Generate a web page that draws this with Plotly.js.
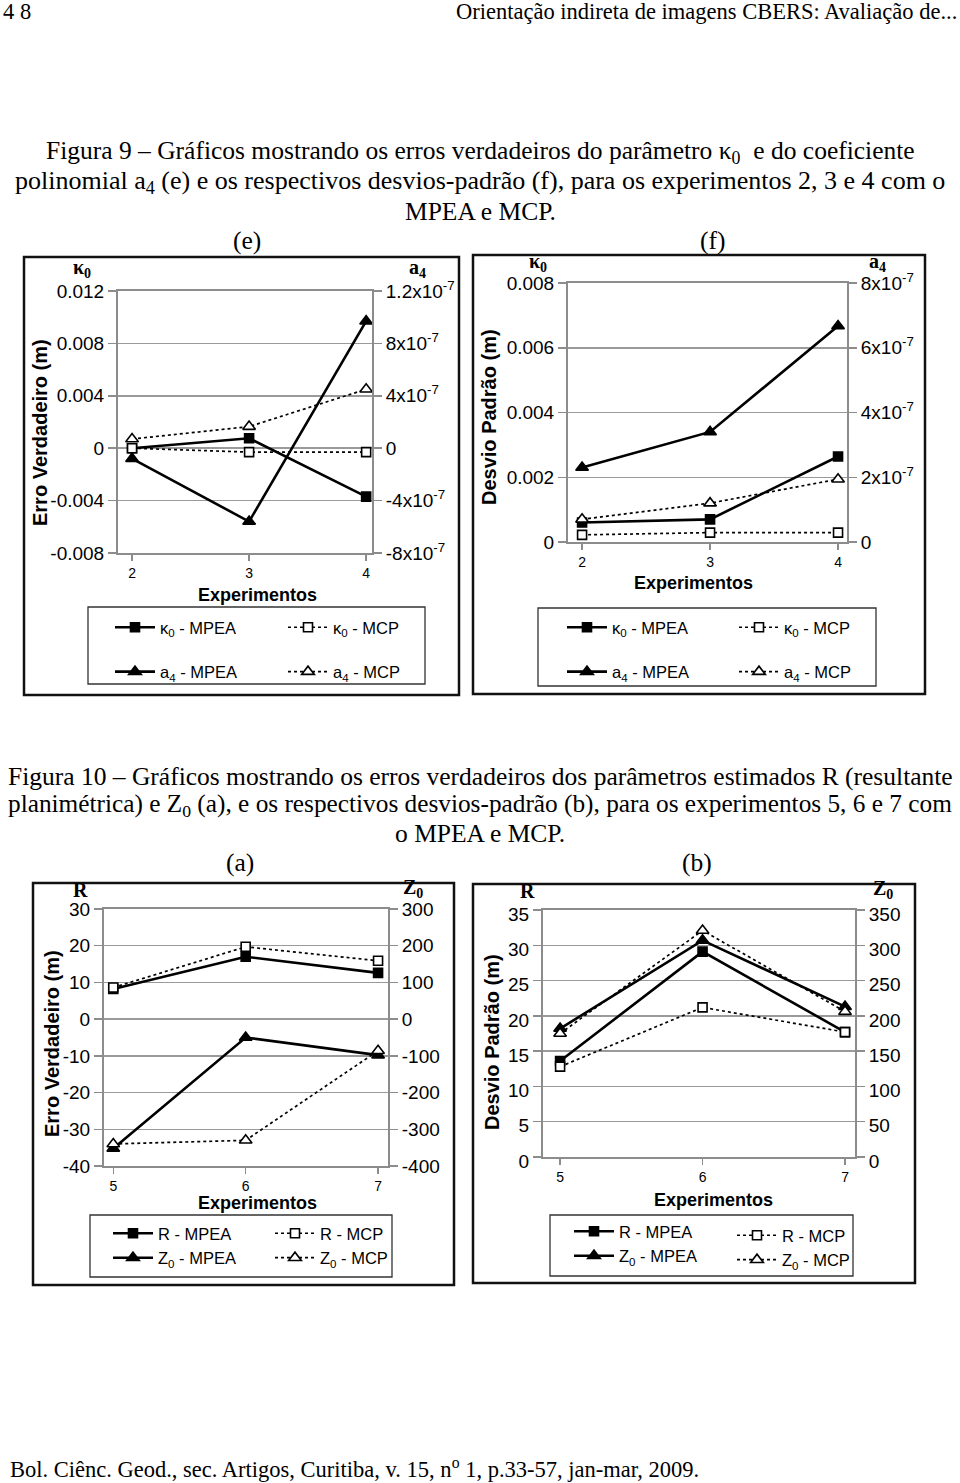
<!DOCTYPE html>
<html><head><meta charset="utf-8">
<script src="https://cdn.plot.ly/plotly-3.0.1.min.js"></script>
<style>body{margin:0;background:#fff}#chart{width:960px;height:1483px}</style>
</head><body><div id="chart"></div><script>
// ---------- Figura 9 data ----------
const expE = [2, 3, 4];
const k0ErrMPEA = [0, 0.00076, -0.0037];
const k0ErrMCP = [0, -0.0003, -0.0003];
const a4ErrMPEA = [-0.8, -5.6, 9.7];   // in units of 10^-7 (as labelled)
const a4ErrMCP = [0.7, 1.65, 4.5];
const k0StdMPEA = [0.0006, 0.0007, 0.00264];
const k0StdMCP = [0.00022, 0.00029, 0.00029];
const a4StdMPEA = [2.3, 3.4, 6.67];
const a4StdMCP = [0.7, 1.2, 1.94];
// ---------- Figura 10 data ----------
const expA = [5, 6, 7];
const rErrMPEA = [8.2, 17, 12.6];
const rErrMCP = [8.6, 19.7, 15.9];
const z0ErrMPEA = [-352, -50, -98];
const z0ErrMCP = [-340, -330, -86];
const rStdMPEA = [13.6, 29.1, 17.7];
const rStdMCP = [12.8, 21.2, 17.7];
const z0StdMPEA = [182, 307, 213];
const z0StdMCP = [175, 321, 206];
// ---------- tick labels ----------
const k0ErrTickVals = [-0.008, -0.004, 0, 0.004, 0.008, 0.012];
const k0ErrTickText = ['-0.008', '-0.004', '0', '0.004', '0.008', '0.012'];
const a4ErrTickVals = [-8, -4, 0, 4, 8, 12];
const a4ErrTickText = ['-8x10<sup>-7</sup>', '-4x10<sup>-7</sup>', '0', '4x10<sup>-7</sup>', '8x10<sup>-7</sup>', '1.2x10<sup>-7</sup>'];
const k0StdTickVals = [0, 0.002, 0.004, 0.006, 0.008];
const k0StdTickText = ['0', '0.002', '0.004', '0.006', '0.008'];
const a4StdTickVals = [0, 2, 4, 6, 8];
const a4StdTickText = ['0', '2x10<sup>-7</sup>', '4x10<sup>-7</sup>', '6x10<sup>-7</sup>', '8x10<sup>-7</sup>'];
const rErrTickVals = [-40, -30, -20, -10, 0, 10, 20, 30];
const rErrTickText = ['-40', '-30', '-20', '-10', '0', '10', '20', '30'];
const z0ErrTickVals = [-400, -300, -200, -100, 0, 100, 200, 300];
const z0ErrTickText = ['-400', '-300', '-200', '-100', '0', '100', '200', '300'];
const rStdTickVals = [0, 5, 10, 15, 20, 25, 30, 35];
const z0StdTickVals = [0, 50, 100, 150, 200, 250, 300, 350];

const W = 960, H = 1483;
const px = v => v / W, py = v => 1 - v / H;
const SANS = 'Liberation Sans, Arial, sans-serif';
const SERIF = 'Liberation Serif, Times New Roman, serif';
const GRAY = '#8c8c8c';
const TXT = 22.5, CAP = 25.5;

function xAx(l, r, anchor, range, vals) {
  return {domain: [px(l), px(r)], anchor: anchor, range: range, tickvals: vals,
    ticks: 'outside', ticklen: 6, tickwidth: 1.5, tickcolor: GRAY,
    showline: true, linecolor: GRAY, linewidth: 2, mirror: true,
    showgrid: false, zeroline: false, fixedrange: true,
    tickfont: {family: SANS, size: 14, color: '#000'}};
}
function yAx(t, b, anchor, range, vals, text) {
  return {domain: [py(b), py(t)], anchor: anchor, range: range, tickvals: vals, ticktext: text,
    ticks: 'outside', ticklen: 8, tickwidth: 1.5, tickcolor: GRAY,
    showline: true, linecolor: GRAY, linewidth: 2,
    showgrid: true, gridcolor: '#9a9a9a', gridwidth: 1.5, zeroline: false, fixedrange: true,
    tickfont: {family: SANS, size: 19, color: '#000'}};
}
function yAxR(ov, anchor, range, vals, text) {
  return {overlaying: ov, side: 'right', anchor: anchor, range: range, tickvals: vals, ticktext: text,
    ticks: 'outside', ticklen: 8, tickwidth: 1.5, tickcolor: GRAY,
    showline: true, linecolor: GRAY, linewidth: 2,
    showgrid: false, zeroline: false, fixedrange: true,
    tickfont: {family: SANS, size: 19, color: '#000'}};
}

function tr(x, y, xa, ya, name, solid, sym, leg, grp) {
  return {x: x, y: y, xaxis: xa, yaxis: ya, name: name, type: 'scatter', mode: 'lines+markers',
    legend: leg, legendgroup: grp,
    line: {color: '#000', width: solid ? 2.6 : 1.7, dash: solid ? 'solid' : 'dot'},
    marker: {symbol: sym, size: sym === 'triangle-up' ? 11 : 9, color: solid ? '#000' : '#fff',
      line: {color: '#000', width: 1.6}}};
}

const data = [
  // (e)
  tr(expE, k0ErrMPEA, 'x', 'y', 'κ<sub>0</sub> - MPEA', true, 'square', 'legend', 'e1'),
  tr(expE, a4ErrMPEA, 'x', 'y2', 'a<sub>4</sub> - MPEA', true, 'triangle-up', 'legend', 'e2'),
  tr(expE, k0ErrMCP, 'x', 'y', 'κ<sub>0</sub> - MCP', false, 'square', 'legend2', 'e3'),
  tr(expE, a4ErrMCP, 'x', 'y2', 'a<sub>4</sub> - MCP', false, 'triangle-up', 'legend2', 'e4'),
  // (f)
  tr(expE, k0StdMPEA, 'x2', 'y3', 'κ<sub>0</sub> - MPEA', true, 'square', 'legend3', 'f1'),
  tr(expE, a4StdMPEA, 'x2', 'y4', 'a<sub>4</sub> - MPEA', true, 'triangle-up', 'legend3', 'f2'),
  tr(expE, k0StdMCP, 'x2', 'y3', 'κ<sub>0</sub> - MCP', false, 'square', 'legend4', 'f3'),
  tr(expE, a4StdMCP, 'x2', 'y4', 'a<sub>4</sub> - MCP', false, 'triangle-up', 'legend4', 'f4'),
  // (a)
  tr(expA, rErrMPEA, 'x3', 'y5', 'R - MPEA', true, 'square', 'legend5', 'a1'),
  tr(expA, z0ErrMPEA, 'x3', 'y6', 'Z<sub>0</sub> - MPEA', true, 'triangle-up', 'legend5', 'a2'),
  tr(expA, rErrMCP, 'x3', 'y5', 'R - MCP', false, 'square', 'legend6', 'a3'),
  tr(expA, z0ErrMCP, 'x3', 'y6', 'Z<sub>0</sub> - MCP', false, 'triangle-up', 'legend6', 'a4'),
  // (b)
  tr(expA, rStdMPEA, 'x4', 'y7', 'R - MPEA', true, 'square', 'legend7', 'b1'),
  tr(expA, z0StdMPEA, 'x4', 'y8', 'Z<sub>0</sub> - MPEA', true, 'triangle-up', 'legend7', 'b2'),
  tr(expA, rStdMCP, 'x4', 'y7', 'R - MCP', false, 'square', 'legend8', 'b3'),
  tr(expA, z0StdMCP, 'x4', 'y8', 'Z<sub>0</sub> - MCP', false, 'triangle-up', 'legend8', 'b4')
];

function leg(xp, yp, gap) {
  return {x: px(xp), y: py(yp), xanchor: 'left', yanchor: 'top', bgcolor: 'rgba(0,0,0,0)',
    borderwidth: 0, tracegroupgap: gap, itemwidth: 40, traceorder: 'grouped',
    font: {family: SANS, size: 16.5, color: '#000'}};
}

function ann(x, y, text, size, opts) {
  return Object.assign({x: px(x), y: py(y), xref: 'paper', yref: 'paper', text: text, showarrow: false,
    borderpad: 0, xanchor: 'center', yanchor: 'middle', font: {family: SERIF, size: size, color: '#000'}}, opts || {});
}

const bold = (s) => '<b>' + s + '</b>';
const sansF = (s) => ({font: {family: SANS, size: s, color: '#000'}});
const annotations = [
  ann(2, 12, '4 8', TXT, {xanchor: 'left'}),
  ann(958, 12, 'Orientação indireta de imagens CBERS: Avaliação de...', TXT, {xanchor: 'right'}),
  ann(480, 152, 'Figura 9 – Gráficos mostrando os erros verdadeiros do parâmetro κ<sub>0</sub>  e do coeficiente', CAP),
  ann(480, 182, 'polinomial a<sub>4</sub> (e) e os respectivos desvios-padrão (f), para os experimentos 2, 3 e 4 com o', 26),
  ann(480, 212, 'MPEA e MCP.', CAP),
  ann(247, 240, '(e)', CAP), ann(712, 240, '(f)', CAP),
  ann(480, 776, 'Figura 10 – Gráficos mostrando os erros verdadeiros dos parâmetros estimados R (resultante', CAP),
  ann(480, 805, 'planimétrica) e Z<sub>0</sub> (a), e os respectivos desvios-padrão (b), para os experimentos 5, 6 e 7 com', 25.3),
  ann(480, 833, 'o MPEA e MCP.', CAP),
  ann(240, 862, '(a)', CAP), ann(697, 862, '(b)', CAP),
  ann(9, 1468, 'Bol. Ciênc. Geod., sec. Artigos, Curitiba, v. 15, n<sup>o</sup> 1, p.33-57, jan-mar, 2009.', TXT, {xanchor: 'left'}),
  // axis symbol labels
  ann(82, 268, bold('κ<sub>0</sub>'), 20), ann(417, 269, bold('a<sub>4</sub>'), 20),
  ann(538, 262, bold('κ<sub>0</sub>'), 20), ann(877, 262, bold('a<sub>4</sub>'), 20),
  ann(80, 890, bold('R'), 20), ann(413, 888, bold('Z<sub>0</sub>'), 20),
  ann(527, 891, bold('R'), 20), ann(883, 889, bold('Z<sub>0</sub>'), 20),
  // y titles
  ann(40, 433, bold('Erro Verdadeiro (m)'), 20, Object.assign({textangle: -90}, sansF(20))),
  ann(489, 417, bold('Desvio Padrão (m)'), 20, Object.assign({textangle: -90}, sansF(20))),
  ann(52, 1044, bold('Erro Verdadeiro (m)'), 20, Object.assign({textangle: -90}, sansF(20))),
  ann(492, 1042, bold('Desvio Padrão (m)'), 20, Object.assign({textangle: -90}, sansF(20))),
  // x titles
  ann(257, 595, bold('Experimentos'), 18, sansF(18)),
  ann(693, 583, bold('Experimentos'), 18, sansF(18)),
  ann(257, 1203, bold('Experimentos'), 18, sansF(18)),
  ann(713, 1200, bold('Experimentos'), 18, sansF(18))
];

function box(l, t, r, b, w, c) {
  return {type: 'rect', xref: 'paper', yref: 'paper', x0: px(l), x1: px(r), y0: py(b), y1: py(t),
    line: {color: c, width: w}, fillcolor: 'rgba(0,0,0,0)', layer: 'above'};
}
const shapes = [
  box(24, 257, 459, 695, 2.5, '#111'), box(473, 255, 925, 694, 2.5, '#111'),
  box(33, 883, 454, 1285, 2.5, '#111'), box(473, 884, 915, 1283, 2.5, '#111'),
  box(88, 607, 425, 684, 1.3, '#333'), box(538, 608, 876, 686, 1.3, '#333'),
  box(90, 1215, 392, 1277, 1.3, '#333'), box(550, 1215, 853, 1276, 1.3, '#333')
];

const yB = yAx(910, 1157, 'x4', [0, 35], rStdTickVals, rStdTickVals.map(String));
yB.ticklabelshift = 4;
const yB2 = yAxR('y7', 'x4', [0, 350], z0StdTickVals, z0StdTickVals.map(String));
yB2.ticklabelshift = 4;

const layout = {
  width: W, height: H, margin: {l: 0, r: 0, t: 0, b: 0},
  paper_bgcolor: '#fff', plot_bgcolor: '#fff', showlegend: true,
  xaxis: xAx(118, 372, 'y', [1.88, 4.05], expE),
  yaxis: yAx(291, 553, 'x', [-0.008, 0.012], k0ErrTickVals, k0ErrTickText),
  yaxis2: yAxR('y', 'x', [-8, 12], a4ErrTickVals, a4ErrTickText),
  xaxis2: xAx(568, 847, 'y3', [1.89, 4.07], expE),
  yaxis3: yAx(283, 542, 'x2', [0, 0.008], k0StdTickVals, k0StdTickText),
  yaxis4: yAxR('y3', 'x2', [0, 8], a4StdTickVals, a4StdTickText),
  xaxis3: xAx(104, 388, 'y5', [4.93, 7.075], expA),
  yaxis5: yAx(909, 1166, 'x3', [-40, 30], rErrTickVals, rErrTickText),
  yaxis6: yAxR('y5', 'x3', [-400, 300], z0ErrTickVals, z0ErrTickText),
  xaxis4: xAx(543, 855, 'y7', [4.88, 7.07], expA),
  yaxis7: yB,
  yaxis8: yB2,
  legend: leg(110, 610, 20), legend2: leg(283, 610, 20),
  legend3: leg(562, 610, 20), legend4: leg(734, 610, 20),
  legend5: leg(108, 1216, 0), legend6: leg(270, 1216, 0),
  legend7: leg(569, 1214, 0), legend8: leg(732, 1218, 0),
  annotations: annotations, shapes: shapes
};

Plotly.newPlot('chart', data, layout, {staticPlot: true, displayModeBar: false});
</script></body></html>
